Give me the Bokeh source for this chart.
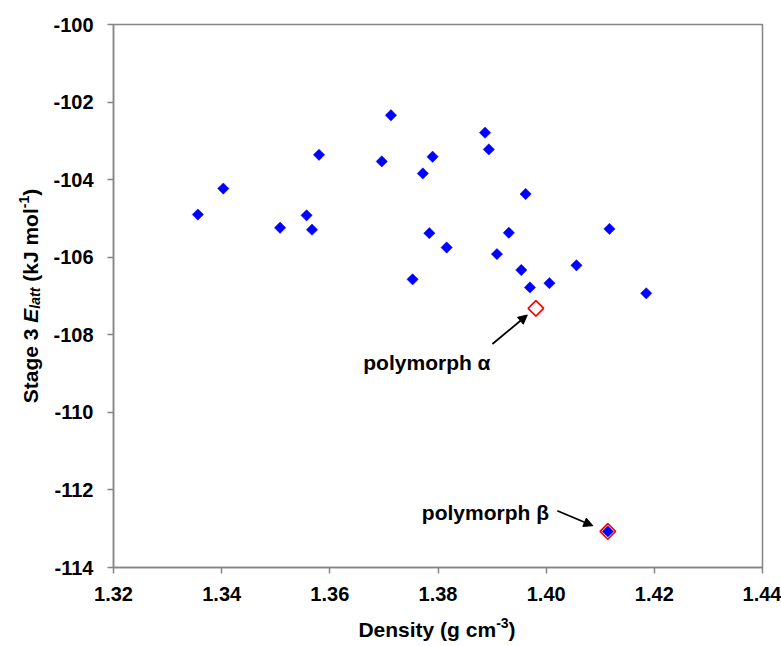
import math
from bokeh.plotting import figure
from bokeh.layouts import row, column
from bokeh.models import FixedTicker, NumeralTickFormatter, Label, Arrow, NormalHead, Range1d
from bokeh.embed import file_html
from bokeh.resources import INLINE

# ---- data ----
density = [1.3356, 1.3403, 1.3508, 1.3557, 1.3567, 1.3580, 1.3696, 1.3713,
           1.3753, 1.3772, 1.3784, 1.3790, 1.3816, 1.3887, 1.3894, 1.3909,
           1.3931, 1.3954, 1.3962, 1.3970, 1.4006, 1.4056, 1.4117, 1.4185]
energy = [-104.90, -104.23, -105.24, -104.92, -105.29, -103.36, -103.53, -102.34,
          -106.57, -103.84, -105.38, -103.41, -105.75, -102.79, -103.22, -105.92,
          -105.37, -106.33, -104.37, -106.78, -106.67, -106.21, -105.27, -106.93]
alpha_density = [1.3981]
alpha_energy = [-107.32]
beta_density = [1.4114]
beta_energy = [-113.07]
x_ticks = [1.32, 1.34, 1.36, 1.38, 1.40, 1.42, 1.44]
y_ticks = [-114, -112, -110, -108, -106, -104, -102, -100]
alpha_text = "polymorph α"
beta_text = "polymorph β"

FONT = "Liberation Sans"
W, H = 781, 642           # whole layout
LW = 50                   # left strip holding the y-axis title
FW, FH = 651, 543         # plot frame
MT = 24
PH = MT + FH + 42         # main figure height
BH = H - PH               # bottom strip holding the x-axis title
PW = W - LW
ML = 111 - LW
MR = PW - ML - FW
MB = PH - MT - FH
X0, X1 = x_ticks[0], x_ticks[-1]
Y0, Y1 = y_ticks[0], y_ticks[-1]
dxp = (X1 - X0) / FW
dyp = (Y1 - Y0) / FH

p = figure(width=PW, height=PH, x_range=Range1d(X0, X1), y_range=Range1d(Y0, Y1),
           output_backend="svg", toolbar_location=None,
           min_border_left=ML, min_border_right=MR, min_border_top=MT, min_border_bottom=MB)
p.frame_align = False
p.xgrid.visible = False
p.ygrid.visible = False
p.outline_line_color = "#858585"
p.outline_line_width = 1.5

for ax in (p.xaxis, p.yaxis):
    ax.axis_line_color = "#858585"
    ax.axis_line_width = 1.5
    ax.major_tick_line_color = "#858585"
    ax.major_tick_line_width = 1.5
    ax.major_tick_out = 6
    ax.major_tick_in = 0
    ax.minor_tick_line_color = None
    ax.major_label_text_font = FONT
    ax.major_label_text_font_size = "20px"
    ax.major_label_text_font_style = "bold"
    ax.major_label_text_color = "black"
    ax.axis_label = None

p.xaxis.ticker = FixedTicker(ticks=x_ticks)
p.yaxis.ticker = FixedTicker(ticks=y_ticks)
p.xaxis.formatter = NumeralTickFormatter(format="0.00")
p.yaxis.formatter = NumeralTickFormatter(format="0")
p.xaxis.major_label_standoff = 13
p.yaxis.major_label_standoff = 14

# blue points (beta included underneath its red marker)
p.scatter(density + beta_density, energy + beta_energy, marker="square", angle=math.pi / 4,
          size=8, fill_color="#0000FF", line_color="#0000FF", line_width=0.5)
# red open markers for the known polymorphs
p.scatter(alpha_density + beta_density, alpha_energy + beta_energy, marker="square",
          angle=math.pi / 4, size=11, fill_color=None, line_color="#FF0000", line_width=1.6)


def px_to_data(xd, yd, dx, dy_up):
    return xd + dx * dxp, yd + dy_up * dyp


head = dict(size=9, fill_color="black", line_color="black")
ax_, ay_ = alpha_density[0], alpha_energy[0]
bx_, by_ = beta_density[0], beta_energy[0]

xs, ys = px_to_data(ax_, ay_, -43.6, -35.6)
xe, ye = px_to_data(ax_, ay_, -8.6, -6.6)
p.add_layout(Arrow(end=NormalHead(**head), x_start=xs, y_start=ys, x_end=xe, y_end=ye,
                   line_color="black", line_width=1.8))
xs, ys = px_to_data(bx_, by_, -50.7, 20.7)
xe, ye = px_to_data(bx_, by_, -15, 5.7)
p.add_layout(Arrow(end=NormalHead(**head), x_start=xs, y_start=ys, x_end=xe, y_end=ye,
                   line_color="black", line_width=1.8))

lbl = dict(text_font=FONT, text_font_style="bold", text_font_size="21px", text_color="black",
           text_align="left", text_baseline="alphabetic")
p.add_layout(Label(x=ax_, y=ay_, x_offset=-172.6, y_offset=-54.3, text=alpha_text, **lbl))
p.add_layout(Label(x=bx_, y=by_, x_offset=-186, y_offset=18.7, text=beta_text, **lbl))


def strip(w, h):
    f = figure(width=w, height=h, x_range=Range1d(0, w), y_range=Range1d(0, h),
               x_axis_type=None, y_axis_type=None, output_backend="svg",
               toolbar_location=None, min_border=0)
    f.frame_align = False
    f.outline_line_color = None
    f.grid.visible = False
    return f


def add_piece(f, x, y, text, size, style, angle=0.0):
    f.add_layout(Label(x=x, y=y, text=text, angle=angle, text_font=FONT, text_font_style=style,
                       text_font_size=f"{size}px", text_color="black",
                       text_align="left", text_baseline="alphabetic"))


big, small = 21, 14

# ---- y-axis title: Stage 3 E_latt (kJ mol-1), rotated ----
ly = strip(LW, H)
pieces_y = [("Stage 3", big, "bold", 0, 3.835 * big),
            ("E", big, "bold italic", 0, 0.667 * big),
            ("latt", small, "bold italic", 4, 1.5 * small),
            ("(kJ mol", big, "bold", 0, 3.501 * big),
            ("-1", small, "bold", -7, 0.889 * small),
            (")", big, "bold", 0, 0.333 * big)]
gaps = [0, 0, 0, 0.278 * big, 0, 0]
total = sum(w for *_, w in pieces_y) + sum(gaps)
frame_mid_y = H - (MT + FH / 2)
pos = frame_mid_y - total / 2
base_x = 30
for (t, s, st, shift, w), g in zip(pieces_y, gaps):
    pos += g
    add_piece(ly, base_x + shift, pos, t, s, st, angle=math.pi / 2)
    pos += w

# ---- x-axis title: Density (g cm-3) ----
lx = strip(PW, BH)
pieces_x = [("Density (g cm", big, "bold", 0, 6.557 * big),
            ("-3", small, "bold", 7, 0.889 * small),
            (")", big, "bold", 0, 0.333 * big)]
total = sum(w for *_, w in pieces_x)
pos = ML + FW / 2 - total / 2
base_y = H - 629
for t, s, st, shift, w in pieces_x:
    add_piece(lx, pos, base_y + shift, t, s, st)
    pos += w

layout = row(ly, column(p, lx))
open("out.html", "w").write(file_html(layout, INLINE))
